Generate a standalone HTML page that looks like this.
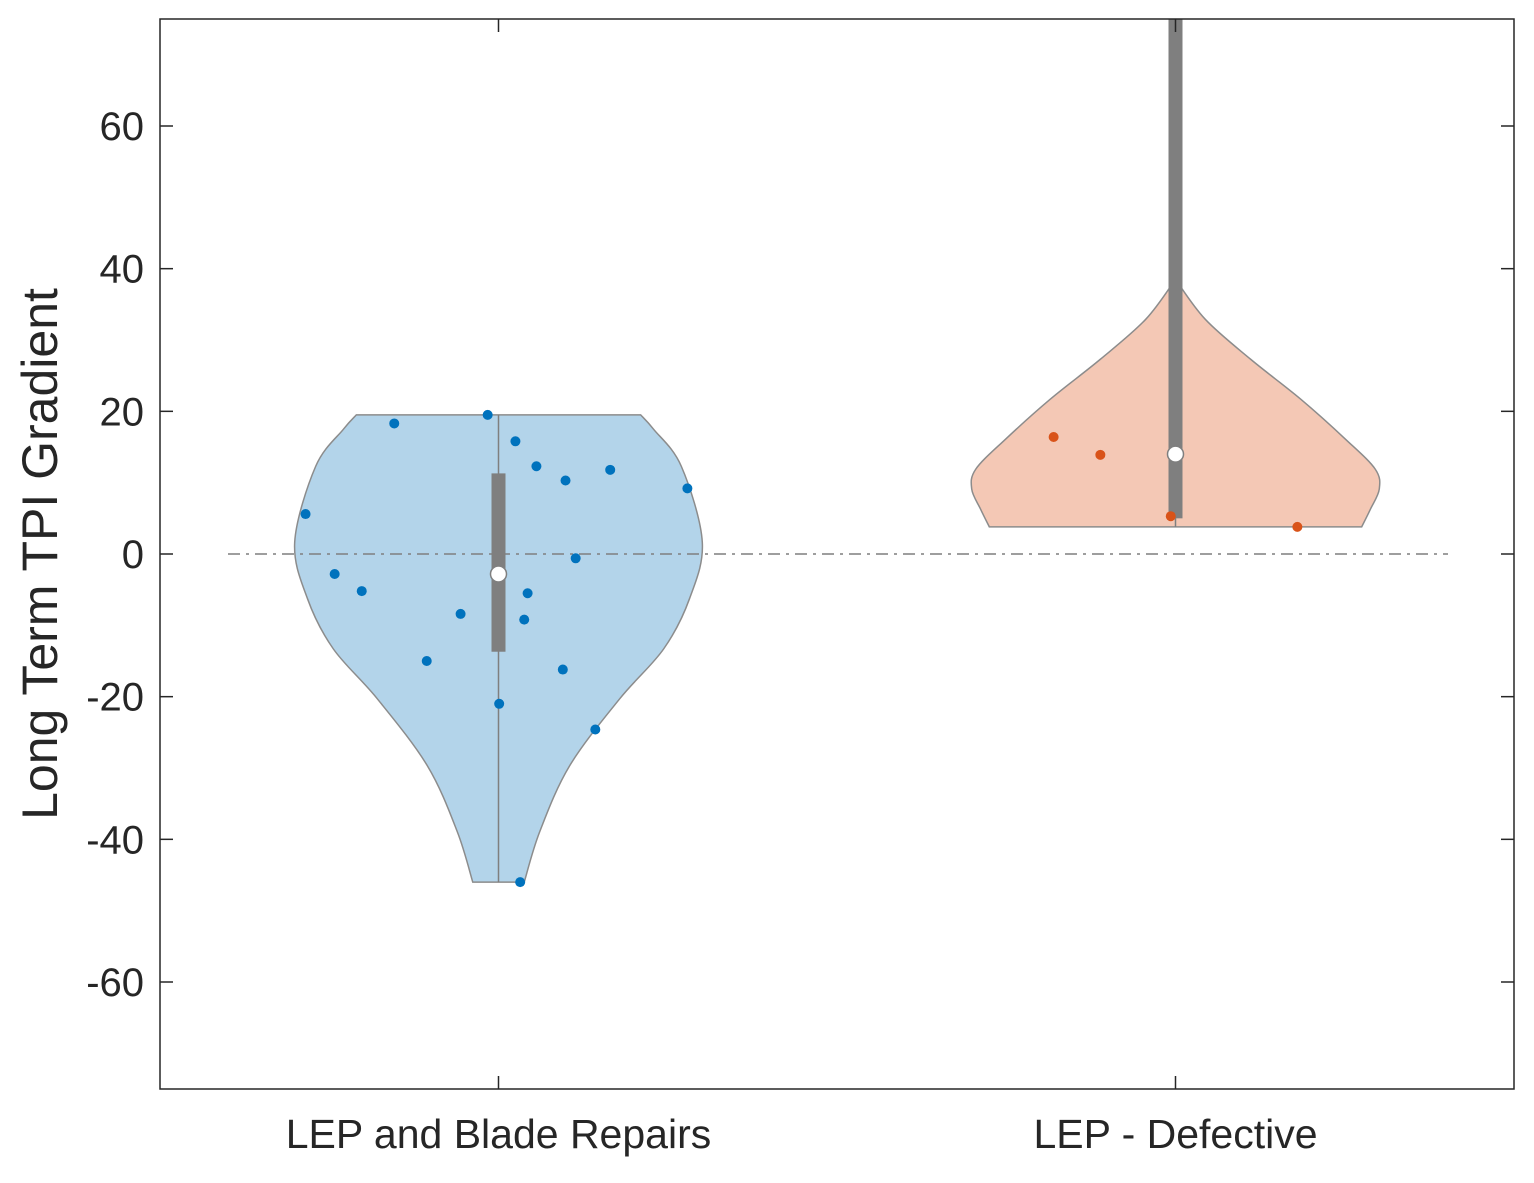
<!DOCTYPE html>
<html><head><meta charset="utf-8"><style>
body{margin:0;background:#fff}
svg text{font-family:"Liberation Sans",Arial,sans-serif;fill:#262626}
</style></head><body>
<svg id="chart" width="1534" height="1178" viewBox="0 0 1534 1178" xmlns="http://www.w3.org/2000/svg">
<g id="plot"></g>
</svg>
<script>
const categories=["LEP and Blade Repairs","LEP - Defective"];
const yTicks=[-60,-40,-20,0,20,40,60];
// violin profiles: value levels and half-widths (category units)
const v1Levels=[19.5,17.5,12.3,1.7,-6.3,-13.3,-20.3,-29.7,-38.9,-46];
const v1Widths=[0.21,0.229,0.27,0.301,0.282,0.244,0.179,0.105,0.061,0.038];
const v2Levels=[38.5,32.9,27.3,21.7,16.1,11.9,9.1,6.3,3.8];
const v2Widths=[0,0.044,0.111,0.185,0.251,0.295,0.301,0.288,0.275];
// scatter points
const s1Values=[5.6,-2.8,-5.2,18.3,-15,-8.4,19.5,-21,15.8,-46,-9.2,-5.5,12.3,-16.2,10.3,-0.6,-24.6,11.8,9.2];
const s1Jitter=[-0.285,-0.242,-0.202,-0.154,-0.106,-0.056,-0.016,0.001,0.025,0.032,0.038,0.043,0.056,0.095,0.099,0.114,0.143,0.165,0.279];
const s2Values=[16.4,13.9,5.3,3.8];
const s2Jitter=[-0.18,-0.111,-0.007,0.18];
// box stats [whiskerLow, q1, median, q3, whiskerHigh]
const box1=[-46,-13.7,-2.8,11.3,19.5];
const box2=[3.8,5,14,80,80];

const L=160,R=1514,T=19,B=1089;
const xs=c=>L+(c-0.5)/2*(R-L);
const ys=v=>B-(v+75)/150*(B-T);
const g=document.getElementById('plot');
const NS='http://www.w3.org/2000/svg';
function mk(t,a,p){const e=document.createElementNS(NS,t);for(const k in a)e.setAttribute(k,a[k]);(p||g).appendChild(e);return e;}

function violin(levels,widths,c,fill,name){
  let pts=[];
  for(let i=0;i<levels.length;i++)pts.push([xs(c+widths[i]),ys(levels[i])]);
  let left=[];
  for(let i=levels.length-1;i>=0;i--)left.push([xs(c-widths[i]),ys(levels[i])]);
  function smooth(p){let d='';for(let i=0;i<p.length-1;i++){const p0=p[i-1]||p[i],p1=p[i],p2=p[i+1],p3=p[i+2]||p2;
    const c1=[p1[0]+(p2[0]-p0[0])/6,p1[1]+(p2[1]-p0[1])/6],c2=[p2[0]-(p3[0]-p1[0])/6,p2[1]-(p3[1]-p1[1])/6];
    d+=` C${c1[0]},${c1[1]} ${c2[0]},${c2[1]} ${p2[0]},${p2[1]}`;}return d;}
  const d=`M${pts[0][0]},${pts[0][1]}`+smooth(pts)+` L${left[0][0]},${left[0][1]}`+smooth(left)+' Z';
  const e=mk('path',{d:d,fill:fill,stroke:'#8c8c8c','stroke-width':1.5});
  
  
}
violin(v1Levels,v1Widths,1,'#b3d4ea','violin-lep-blade-repairs');
violin(v2Levels,v2Widths,2,'#f4c8b5','violin-lep-defective');

const zl=mk('line',{x1:228,x2:1448,y1:ys(0),y2:ys(0),stroke:'#7f7f7f','stroke-width':1.5,'stroke-dasharray':'12,6,3,6'});



function scatter(vals,jit,c,color,name){
  for(let i=0;i<vals.length;i++){
    const e=mk('circle',{cx:xs(c+jit[i]),cy:ys(vals[i]),r:5,fill:color});
    
    
  }
}
function box(b,c,name){
  const top=Math.max(ys(b[4]),T), bt=Math.max(ys(b[3]),T);
  const w=mk('line',{x1:xs(c),x2:xs(c),y1:ys(b[0]),y2:top,stroke:'#7f7f7f','stroke-width':1.5});
  
  
  const r=mk('rect',{x:xs(c)-7,y:bt,width:14,height:ys(b[1])-bt,fill:'#7f7f7f'});
  
  
}
box(box1,1,'box-lep-blade-repairs');
box(box2,2,'box-lep-defective');
scatter(s1Values,s1Jitter,1,'#0072bd','point-lep-blade-repairs');
scatter(s2Values,s2Jitter,2,'#d95319','point-lep-defective');
[[box1,1],[box2,2]].forEach(([b,c])=>{
  const m=mk('circle',{cx:xs(c),cy:ys(b[2]),r:8,fill:'#fff',stroke:'#7f7f7f','stroke-width':1.5});
  
  
});

const ax=mk('rect',{x:L,y:T,width:R-L,height:B-T,fill:'none',stroke:'#262626','stroke-width':1.5});


yTicks.forEach(v=>{
  mk('line',{x1:L,x2:L+13,y1:ys(v),y2:ys(v),stroke:'#262626','stroke-width':1.5});
  mk('line',{x1:R-13,x2:R,y1:ys(v),y2:ys(v),stroke:'#262626','stroke-width':1.5});
  const t=mk('text',{x:L-16,y:ys(v)+14,'text-anchor':'end','font-size':40});
  t.textContent=v;
  
  
});
categories.forEach((c,i)=>{
  const x=xs(i+1);
  mk('line',{x1:x,x2:x,y1:B,y2:B-13,stroke:'#262626','stroke-width':1.5});
  mk('line',{x1:x,x2:x,y1:T,y2:T+13,stroke:'#262626','stroke-width':1.5});
  const t=mk('text',{x:x,y:1148,'text-anchor':'middle','font-size':41});
  t.textContent=c;
  
  
});
const yt=mk('text',{x:0,y:0,'text-anchor':'middle','font-size':50,transform:`translate(57,${ys(0)}) rotate(-90)`});
yt.textContent='Long Term TPI Gradient';


</script>
</body></html>
